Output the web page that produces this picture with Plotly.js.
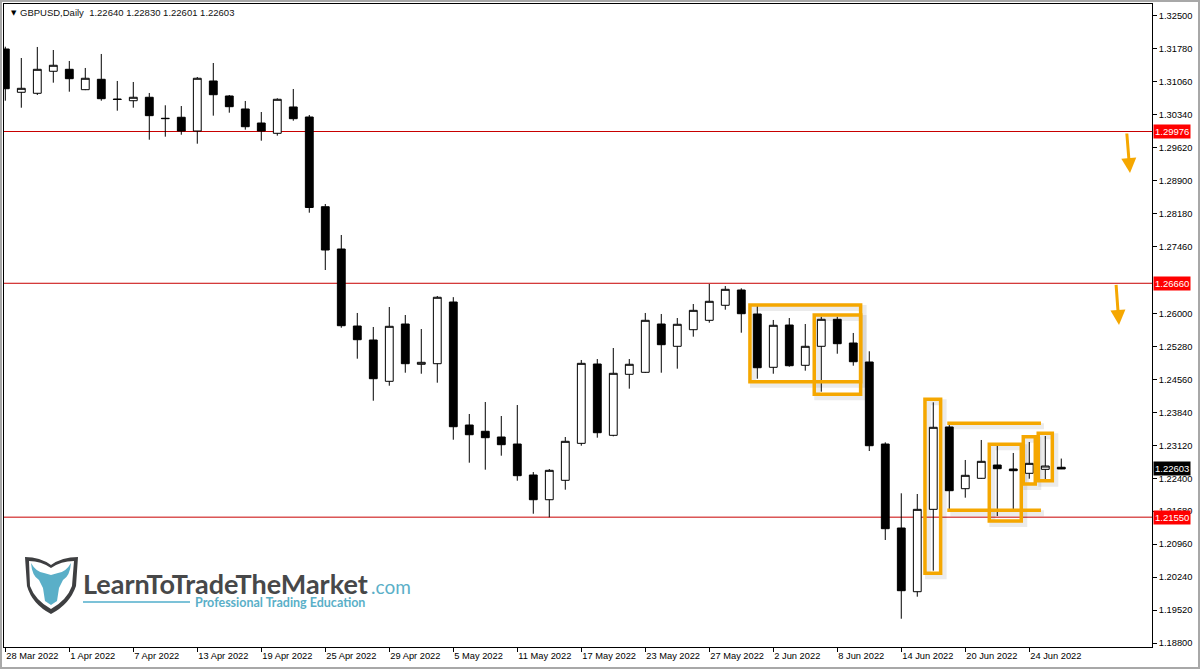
<!DOCTYPE html>
<html>
<head>
<meta charset="utf-8">
<script src="https://cdn.plot.ly/plotly-3.0.1.min.js"></script>
<style>
html,body{margin:0;padding:0;background:#fff;}
#chart{width:1200px;height:669px;}
</style>
</head>
<body>
<div id="chart"></div>
<script>
// ---- Data (GBPUSD Daily) ----
var dates = [
 "2022-03-28","2022-03-29","2022-03-30","2022-03-31","2022-04-01","2022-04-04","2022-04-05","2022-04-06","2022-04-07","2022-04-08",
 "2022-04-11","2022-04-12","2022-04-13","2022-04-14","2022-04-15","2022-04-18","2022-04-19","2022-04-20","2022-04-21","2022-04-22",
 "2022-04-25","2022-04-26","2022-04-27","2022-04-28","2022-04-29","2022-05-02","2022-05-03","2022-05-04","2022-05-05","2022-05-06",
 "2022-05-09","2022-05-10","2022-05-11","2022-05-12","2022-05-13","2022-05-16","2022-05-17","2022-05-18","2022-05-19","2022-05-20",
 "2022-05-23","2022-05-24","2022-05-25","2022-05-26","2022-05-27","2022-05-30","2022-05-31","2022-06-01","2022-06-02","2022-06-03",
 "2022-06-06","2022-06-07","2022-06-08","2022-06-09","2022-06-10","2022-06-13","2022-06-14","2022-06-15","2022-06-16","2022-06-17",
 "2022-06-20","2022-06-21","2022-06-22","2022-06-23","2022-06-24","2022-06-27","2022-06-28"];

var openP = [
 1.31779,1.30833,1.30811,1.31292,1.31335,1.30890,1.31117,1.30686,1.30649,1.30724,
 1.30265,1.30287,1.29987,1.31080,1.30752,1.30468,1.30162,1.29937,1.30512,1.30293,
 1.28333,1.27409,1.25726,1.25421,1.24518,1.25770,1.24890,1.24903,1.26251,1.23563,
 1.23426,1.23301,1.23148,1.22471,1.21931,1.22355,1.23163,1.24896,1.23338,1.24671,
 1.24715,1.25770,1.25283,1.25646,1.25851,1.26179,1.26513,1.25989,1.24824,1.25748,
 1.24868,1.25283,1.25873,1.25355,1.24940,1.23148,1.21313,1.19921,1.21721,1.23520,
 1.22172,1.22399,1.22689,1.22602,1.22508,1.22595,1.22640];
var highP = [
 1.31829,1.31582,1.31823,1.31757,1.31517,1.31364,1.31670,1.31080,1.31058,1.30818,
 1.30549,1.30533,1.31167,1.31473,1.30774,1.30643,1.30402,1.30702,1.30905,1.30337,
 1.28392,1.27715,1.26011,1.25705,1.26142,1.25967,1.25661,1.26382,1.26357,1.23804,
 1.24066,1.23760,1.24000,1.22536,1.22602,1.23301,1.24984,1.25005,1.25246,1.25005,
 1.26011,1.25989,1.25901,1.26207,1.26644,1.26600,1.26550,1.26170,1.25858,1.25901,
 1.25770,1.25930,1.25930,1.25574,1.25174,1.23185,1.22071,1.22056,1.24059,1.23563,
 1.22799,1.23236,1.23126,1.22952,1.23192,1.23323,1.22830];
var lowP = [
 1.30649,1.30496,1.30774,1.31043,1.30846,1.30880,1.30649,1.30431,1.30496,1.29797,
 1.29863,1.29906,1.29710,1.30322,1.30387,1.30016,1.29775,1.29885,1.30212,1.28202,
 1.26950,1.25689,1.25012,1.24094,1.24422,1.24706,1.24684,1.24488,1.23242,1.22740,
 1.22587,1.22893,1.22346,1.21625,1.21547,1.22150,1.23111,1.23286,1.23316,1.24357,
 1.24700,1.24706,1.24794,1.25493,1.25799,1.26083,1.25580,1.24575,1.24684,1.24837,
 1.24750,1.24291,1.25121,1.24859,1.22995,1.21051,1.19331,1.19812,1.20380,1.21721,
 1.21975,1.22390,1.21575,1.21721,1.22390,1.22362,1.22601];
var closeP = [
 1.30911,1.30920,1.31335,1.31423,1.31130,1.31139,1.30693,1.30676,1.30724,1.30322,
 1.30258,1.29987,1.31139,1.30780,1.30518,1.30081,1.29987,1.30680,1.30256,1.28316,
 1.27387,1.25733,1.25427,1.24575,1.25720,1.24903,1.24933,1.26354,1.23526,1.23351,
 1.23286,1.23133,1.22456,1.21931,1.22573,1.23207,1.24911,1.23395,1.24693,1.24890,
 1.25851,1.25318,1.25764,1.26069,1.26266,1.26528,1.25995,1.24815,1.25742,1.24859,
 1.25283,1.25873,1.25340,1.24946,1.23111,1.21298,1.19943,1.21721,1.23513,1.22128,
 1.22464,1.22770,1.22609,1.22565,1.22726,1.22667,1.22603];

var priceTicks = [1.32500,1.31780,1.31060,1.30340,1.29620,1.28900,1.28180,1.27460,1.26000,
 1.25280,1.24560,1.23840,1.23120,1.22400,1.21680,1.20960,1.20240,1.19520,1.18800];
var levelLines = [1.29976, 1.26660, 1.21550];
var lastPrice = 1.22603;
var titleText = "GBPUSD,Daily\u00a0\u00a01.22640 1.22830 1.22601 1.22603";

// ---- derived ----
var monthNames = ["Jan","Feb","Mar","Apr","May","Jun","Jul","Aug","Sep","Oct","Nov","Dec"];
var idx = dates.map(function(d,i){return i;});
var tickIdx = [], tickText = [];
for (var i = 0; i < dates.length; i += 4) {
  if (i > 64) break;
  var p = dates[i].split("-");
  tickIdx.push(i);
  tickText.push(parseInt(p[2],10) + " " + monthNames[parseInt(p[1],10)-1] + " " + p[0]);
}

// pixel helpers for decoration placement (plot area 4..1152 x 4..647)
var PL=4, PT=4, PW=1148, PH=643;
function px(x){return (x-PL)/PW;}
function py(y){return (PT+PH-y)/PH;}
var YPX = 0.0002185; // price per pixel
var XPX = 1/16;      // bar per pixel

var FONT = "Liberation Sans, Arial, sans-serif";
var ORANGE = "#f5a700";
var RED = "#c80000";

var trace = {
  type: "candlestick",
  x: idx, open: openP, high: highP, low: lowP, close: closeP,
  increasing: {line: {color: "#000", width: 1}, fillcolor: "#ffffff"},
  decreasing: {line: {color: "#000", width: 1}, fillcolor: "#000000"},
  whiskerwidth: 0,
  hoverinfo: "none",
  showlegend: false
};

var shapes = [];
// outer window border
shapes.push({type:"rect", xref:"paper", yref:"paper", x0:px(1), x1:px(1199), y0:py(668), y1:py(1),
  line:{color:"#a8a8a8", width:2}, layer:"below"});
// level lines
levelLines.forEach(function(v){
  shapes.push({type:"line", xref:"paper", yref:"y", x0:0, x1:1, y0:v, y1:v, line:{color:RED, width:1}, layer:"below"});
});

// orange boxes [x0,x1,y0,y1] in bar index / price
var boxes = [
  [46.54, 53.46, 1.26185, 1.24509],
  [50.56, 53.46, 1.25967, 1.24234],
  [57.48, 58.46, 1.24125, 1.20323],
  [61.50, 63.50, 1.23142, 1.21466],
  [63.625, 64.375, 1.23308, 1.22274],
  [64.56, 65.44, 1.23382, 1.22346]
];
var hlines = [
  [58.875, 64.73, 1.23600],
  [58.875, 64.73, 1.21700]
];
// soft shadows
boxes.forEach(function(b){
  shapes.push({type:"rect", xref:"x", yref:"y", x0:b[0]+3*XPX, x1:b[1]+3*XPX, y0:b[2]-3*YPX, y1:b[3]-3*YPX,
    line:{color:"rgba(0,0,0,0.08)", width:6}, layer:"below"});
});
hlines.forEach(function(h){
  shapes.push({type:"line", xref:"x", yref:"y", x0:h[0]+3*XPX, x1:h[1]+3*XPX, y0:h[2]-3*YPX, y1:h[2]-3*YPX,
    line:{color:"rgba(0,0,0,0.08)", width:6}, layer:"below"});
});
boxes.forEach(function(b){
  shapes.push({type:"rect", xref:"x", yref:"y", x0:b[0], x1:b[1], y0:b[2], y1:b[3],
    line:{color:ORANGE, width:3.5}, layer:"above"});
});
hlines.forEach(function(h){
  shapes.push({type:"line", xref:"x", yref:"y", x0:h[0], x1:h[1], y0:h[2], y1:h[2],
    line:{color:ORANGE, width:3.5}, layer:"above"});
});

// logo shield
function P(pts){ // pts in pixels
  var s = "";
  for (var k=0;k<pts.length;k++){
    var c = pts[k];
    if (typeof c === "string") { s += c + " "; }
    else { s += px(c[0]).toFixed(5) + "," + py(c[1]).toFixed(5) + " "; }
  }
  return s;
}
shapes.push({type:"path", xref:"paper", yref:"paper", layer:"above",
  path: P(["M",[25,557],"Q",[40,557],[51,565],"Q",[62,557],[78,557],"L",[76,586],"Q",[70,604],[51,614],"Q",[32,604],[27,586],"Z"]),
  fillcolor:"#3e3f41", line:{width:0}});
shapes.push({type:"path", xref:"paper", yref:"paper", layer:"above",
  path: P(["M",[29,561],"Q",[41,561],[51,568],"Q",[61,561],[74,561],"L",[72,586],"Q",[67,600],[51,609],"Q",[35,600],[30,586],"Z"]),
  fillcolor:"#ffffff", line:{width:0}});
shapes.push({type:"path", xref:"paper", yref:"paper", layer:"above",
  path: P(["M",[31,563],"Q",[36,572],[44,573],"L",[51,575],"L",[58,573],"Q",[66,572],[71,563],"Q",[70,576],[63,580],
           "L",[59,588],"L",[57,601],"L",[51,605],"L",[45,601],"L",[43,588],"L",[39,580],"Q",[32,576],[31,563],"Z"]),
  fillcolor:"#5aafc8", line:{width:0}});
shapes.push({type:"line", xref:"paper", yref:"paper", layer:"above",
  x0:px(83), x1:px(190), y0:py(602), y1:py(602), line:{color:"#7cc2d8", width:2}});

var annotations = [];
// price labels on axis
levelLines.forEach(function(v){
  annotations.push({xref:"paper", yref:"y", x:1, y:v, xanchor:"left", yanchor:"middle", xshift:1,
    text:v.toFixed(5), showarrow:false, bgcolor:"#ff0000", borderpad:1,
    font:{family:FONT, size:9.5, color:"#ffffff"}});
});
annotations.push({xref:"paper", yref:"y", x:1, y:lastPrice, xanchor:"left", yanchor:"middle", xshift:1,
  text:lastPrice.toFixed(5), showarrow:false, bgcolor:"#000000", borderpad:1,
  font:{family:FONT, size:9.5, color:"#ffffff"}});
// triangle marker near title
annotations.push({xref:"paper", yref:"paper", x:px(9), y:py(13), xanchor:"left", yanchor:"middle",
  text:"\u25BC", showarrow:false, font:{family:"DejaVu Sans", size:7, color:"#000"}});
// arrows
annotations.push({xref:"paper", yref:"paper", x:px(1130), y:py(173), ax:-3.3, ay:-41, axref:"pixel", ayref:"pixel",
  text:"", showarrow:true, arrowhead:2, arrowsize:1, arrowwidth:3, arrowcolor:ORANGE, standoff:0});
annotations.push({xref:"paper", yref:"paper", x:px(1119), y:py(325), ax:-3, ay:-41.7, axref:"pixel", ayref:"pixel",
  text:"", showarrow:true, arrowhead:2, arrowsize:1, arrowwidth:3, arrowcolor:ORANGE, standoff:0});
// logo text
annotations.push({xref:"paper", yref:"paper", x:px(81), y:py(583), xanchor:"left", yanchor:"middle",
  text:"LearnToTradeTheMarket", showarrow:false,
  font:{family:"Lato, sans-serif", size:27, weight:"bold", color:"#474849"}});
annotations.push({xref:"paper", yref:"paper", x:px(369), y:py(586), xanchor:"left", yanchor:"middle",
  text:".com", showarrow:false,
  font:{family:"Lato, sans-serif", size:19, color:"#5aafc8"}});
annotations.push({xref:"paper", yref:"paper", x:px(193), y:py(602), xanchor:"left", yanchor:"middle",
  text:"Professional Trading Education", showarrow:false,
  font:{family:"Lato, sans-serif", size:12.5, weight:"bold", color:"#5aafc8"}});

var layout = {
  width: 1200, height: 669,
  margin: {l: PL, r: 48, t: PT, b: 22, pad: 0},
  paper_bgcolor: "#ffffff", plot_bgcolor: "#ffffff",
  showlegend: false,
  hovermode: false,
  dragmode: false,
  boxgap: 0.3,
  title: {text: titleText, x: 20/1200, xref: "container", xanchor: "left",
          y: 1 - 13/669, yref: "container", yanchor: "middle",
          font: {family: FONT, size: 9.5, color: "#111"}},
  xaxis: {
    type: "linear", range: [-0.081, 71.67], rangeslider: {visible: false},
    showgrid: false, zeroline: false,
    showline: true, mirror: true, linecolor: "#000", linewidth: 1,
    tickmode: "array", tickvals: tickIdx, ticktext: tickText,
    ticks: "outside", ticklen: 4, tickcolor: "#000", tickwidth: 1,
    ticklabelposition: "outside right",
    tickfont: {family: FONT, size: 9.3, color: "#000"}
  },
  yaxis: {
    side: "right", range: [1.18713, 1.32762],
    showgrid: false, zeroline: false,
    showline: true, mirror: true, linecolor: "#000", linewidth: 1,
    tickmode: "array", tickvals: priceTicks, ticktext: priceTicks.map(function(v){return v.toFixed(5);}),
    ticks: "outside", ticklen: 4, tickcolor: "#000", tickwidth: 1,
    tickfont: {family: FONT, size: 9.3, color: "#000"}
  },
  shapes: shapes,
  annotations: annotations
};

Plotly.newPlot("chart", [trace], layout, {displayModeBar: false, staticPlot: true});
</script>
</body>
</html>
